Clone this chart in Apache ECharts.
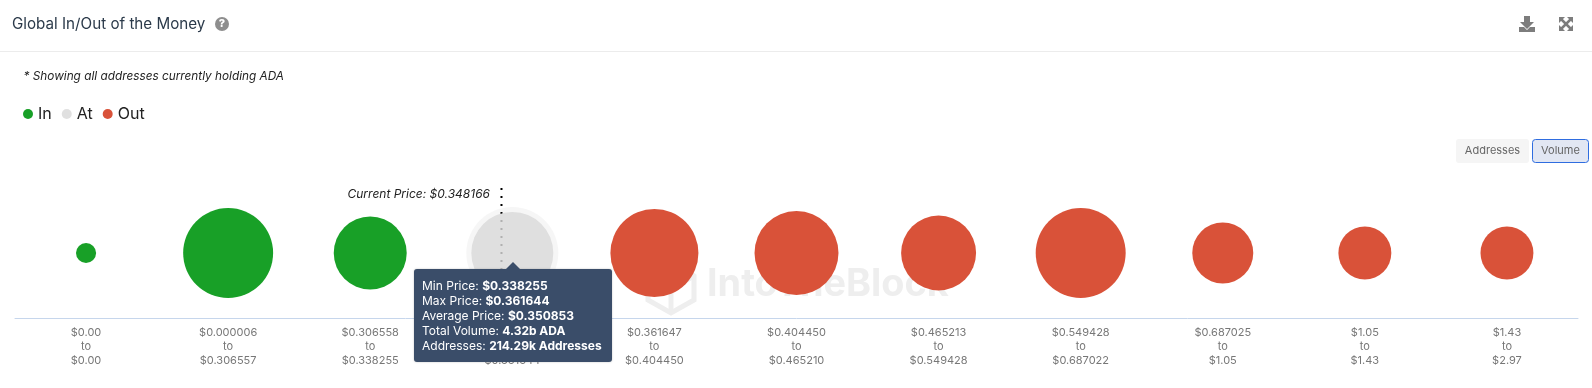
<!DOCTYPE html>
<html>
<head>
<meta charset="utf-8">
<style>html,body{margin:0;padding:0;background:#fff}#c{width:1592px;height:388px}</style>
<script src="https://cdn.jsdelivr.net/npm/echarts@6/dist/echarts.min.js"></script>
</head>
<body>
<div id="c"></div>
<script>
const priceFrom = ['$0.00','$0.000006','$0.306558','$0.338255','$0.361647','$0.404450','$0.465213','$0.549428','$0.687025','$1.05','$1.43'];
const priceTo   = ['$0.00','$0.306557','$0.338255','$0.361644','$0.404450','$0.465210','$0.549428','$0.687022','$1.05','$1.43','$2.97'];
const volumeIn  = [[0,0.26],[1,5.2],[2,3.42]];
const volumeAt  = [[3,4.32]];
const volumeOut = [[4,4.98],[5,4.53],[6,3.61],[7,5.2],[8,2.39],[9,1.8],[10,1.8]];
const currentPrice = 0.348166;
const atMin = 0.338255, atMax = 0.361644;
const tipRows = [['Min Price','$0.338255'],['Max Price','$0.361644'],['Average Price','$0.350853'],['Total Volume','4.32b ADA'],['Addresses','214.29k Addresses']];

const FONT = 'Inter, "Noto Sans", sans-serif';
const categories = priceFrom.map((f,i)=>f+'\nto\n'+priceTo[i]);
const diam = v => 39.45*Math.sqrt(v);
const pts = arr => arr.map(d=>[categories[d[0]],0,d[1]]);
const sizeOf = d => diam(d[2]);
const currentX = volumeAt[0][0] + (currentPrice-atMin)/(atMax-atMin) - 0.5;

const chart = echarts.init(document.getElementById('c'),null,{renderer:'canvas'});
const bubble = (name,arr,color,z)=>({
  name,type:'scatter',data:pts(arr),symbol:'circle',symbolSize:sizeOf,z,
  itemStyle:{color,opacity:1},emphasis:{disabled:true}
});
const icon = '#7d7d7d', wm = '#eeeeee';
chart.setOption({
  animation:false,
  backgroundColor:'#fff',
  textStyle:{fontFamily:FONT},
  legend:{data:['In','At','Out'],left:18,top:101,itemWidth:10,itemHeight:10,itemGap:10,icon:'circle',selectedMode:false,
    textStyle:{fontFamily:FONT,fontSize:16,color:'#222',padding:[0,0,0,0]}},
  grid:{left:15,right:14,top:188,bottom:70},
  xAxis:[
    {type:'category',data:categories,boundaryGap:true,position:'bottom',
     axisLine:{onZero:false,lineStyle:{color:'#c6d6ec',width:1}},axisTick:{show:false},splitLine:{show:false},
     axisLabel:{interval:0,margin:8,fontFamily:FONT,fontSize:11,lineHeight:14,color:'#777',align:'center'}},
    {type:'value',min:-0.5,max:10.5,show:false}
  ],
  yAxis:{type:'value',min:-1,max:1,show:false},
  tooltip:{trigger:'item',alwaysShowContent:true,transitionDuration:0,showDelay:0,hideDelay:0,
    backgroundColor:'#3a4d69',borderWidth:0,borderRadius:3,padding:[9,10,9,8],
    textStyle:{color:'#fff',fontFamily:FONT,fontSize:12,lineHeight:15},
    extraCssText:'box-shadow:0 0 2px rgba(0,0,0,.25);line-height:15px;white-space:nowrap;',
    formatter:()=>'<div style="position:absolute;left:50%;top:-7px;margin-left:-7px;width:0;height:0;border-left:7px solid transparent;border-right:7px solid transparent;border-bottom:7px solid #3a4d69"></div>'+
      tipRows.map(r=>r[0]+': <b style="font-weight:700">'+r[1]+'</b>').join('<br>'),
    position:(point,params,dom,rect,size)=>{
      const c=chart.convertToPixel({xAxisIndex:0,yAxisIndex:0},[categories[volumeAt[0][0]],0]);
      return [c[0]-size.contentSize[0]/2+1,c[1]+16];
    }},
  series:[
    {name:'halo',type:'scatter',data:pts(volumeAt),symbol:'circle',symbolSize:d=>diam(d[2])+10,z:1,silent:true,tooltip:{show:false},
     itemStyle:{color:'#f4f4f4'},emphasis:{disabled:true}},
    {name:'Current Price',type:'line',xAxisIndex:1,yAxisIndex:0,z:2,silent:true,showSymbol:true,showAllSymbol:true,symbol:'circle',symbolSize:1,clip:false,tooltip:{show:false},
     itemStyle:{color:'transparent'},
     lineStyle:{color:'#000',width:2,type:[2,6]},
     data:[{value:[currentX,1],
            label:{show:true,position:'left',distance:11,offset:[0,6],formatter:'Current Price: $'+currentPrice,fontFamily:FONT,fontStyle:'italic',fontSize:12,color:'#222'}},
           {value:[currentX,-0.3]}]},
    bubble('In',volumeIn,'#18a027',3),
    bubble('At',volumeAt,'rgba(217,217,217,0.81)',3),
    bubble('Out',volumeOut,'#d95239',3)
  ],
  graphic:[
    {type:'rect',shape:{x:0,y:51,width:1592,height:1},style:{fill:'#ececec'},silent:true},
    {type:'text',x:12,y:17,style:{text:'Global In/Out of the Money',fontFamily:FONT,fontSize:15.2,fill:'#2b3a4a'}},
    {type:'circle',shape:{cx:222,cy:24,r:7},style:{fill:'#8e8e8e'}},
    {type:'text',x:222,y:24,style:{text:'?',align:'center',verticalAlign:'middle',fontFamily:FONT,fontSize:11,fontWeight:800,fill:'#fff'}},
    {type:'text',x:23.5,y:70,style:{text:'* Showing all addresses currently holding ADA',fontFamily:FONT,fontStyle:'italic',fontSize:11.8,fill:'#222'}},
    {type:'polygon',shape:{points:[[1524,16],[1530,16],[1530,22],[1534,22],[1527,29],[1520,22],[1524,22]]},style:{fill:icon}},
    {type:'polygon',shape:{points:[[1519,27],[1524,27],[1527,30],[1530,27],[1535,27],[1535,32],[1519,32]]},style:{fill:icon}},
    {type:'line',shape:{x1:1561,y1:19,x2:1571,y2:29},style:{stroke:icon,lineWidth:2.5}},
    {type:'line',shape:{x1:1571,y1:19,x2:1561,y2:29},style:{stroke:icon,lineWidth:2.5}},
    {type:'polygon',shape:{points:[[1559,17],[1565,17],[1559,23]]},style:{fill:icon}},
    {type:'polygon',shape:{points:[[1573,17],[1567,17],[1573,23]]},style:{fill:icon}},
    {type:'polygon',shape:{points:[[1559,31],[1565,31],[1559,25]]},style:{fill:icon}},
    {type:'polygon',shape:{points:[[1573,31],[1567,31],[1573,25]]},style:{fill:icon}},
    {type:'rect',shape:{x:1456,y:139,width:73,height:24,r:3},style:{fill:'#f5f5f5'}},
    {type:'text',x:1492.5,y:151,style:{text:'Addresses',align:'center',verticalAlign:'middle',fontFamily:FONT,fontSize:11,fill:'#666'}},
    {type:'rect',shape:{x:1532.5,y:139.5,width:56,height:23,r:3},style:{fill:'#e2e7f3',stroke:'#2f6de0',lineWidth:1}},
    {type:'text',x:1560.5,y:151,style:{text:'Volume',align:'center',verticalAlign:'middle',fontFamily:FONT,fontSize:11,fill:'#666'}},
    {type:'text',x:707,y:285,z:-1,style:{text:'IntoTheBlock',verticalAlign:'middle',fontFamily:FONT,fontSize:37.8,fontWeight:700,fill:wm}},
    {type:'polygon',z:-1,shape:{points:[[671,262],[694,276],[694,300],[671,313],[648,300],[648,276]]},style:{fill:'none',stroke:wm,lineWidth:5}},
    {type:'polyline',z:-1,shape:{points:[[648,276],[671,289],[694,276]]},style:{fill:'none',stroke:wm,lineWidth:5}},
    {type:'line',z:-1,shape:{x1:671,y1:289,x2:671,y2:313},style:{stroke:wm,lineWidth:5}}
  ]
});
chart.dispatchAction({type:'showTip',seriesIndex:3,dataIndex:0});
</script>
</body>
</html>
